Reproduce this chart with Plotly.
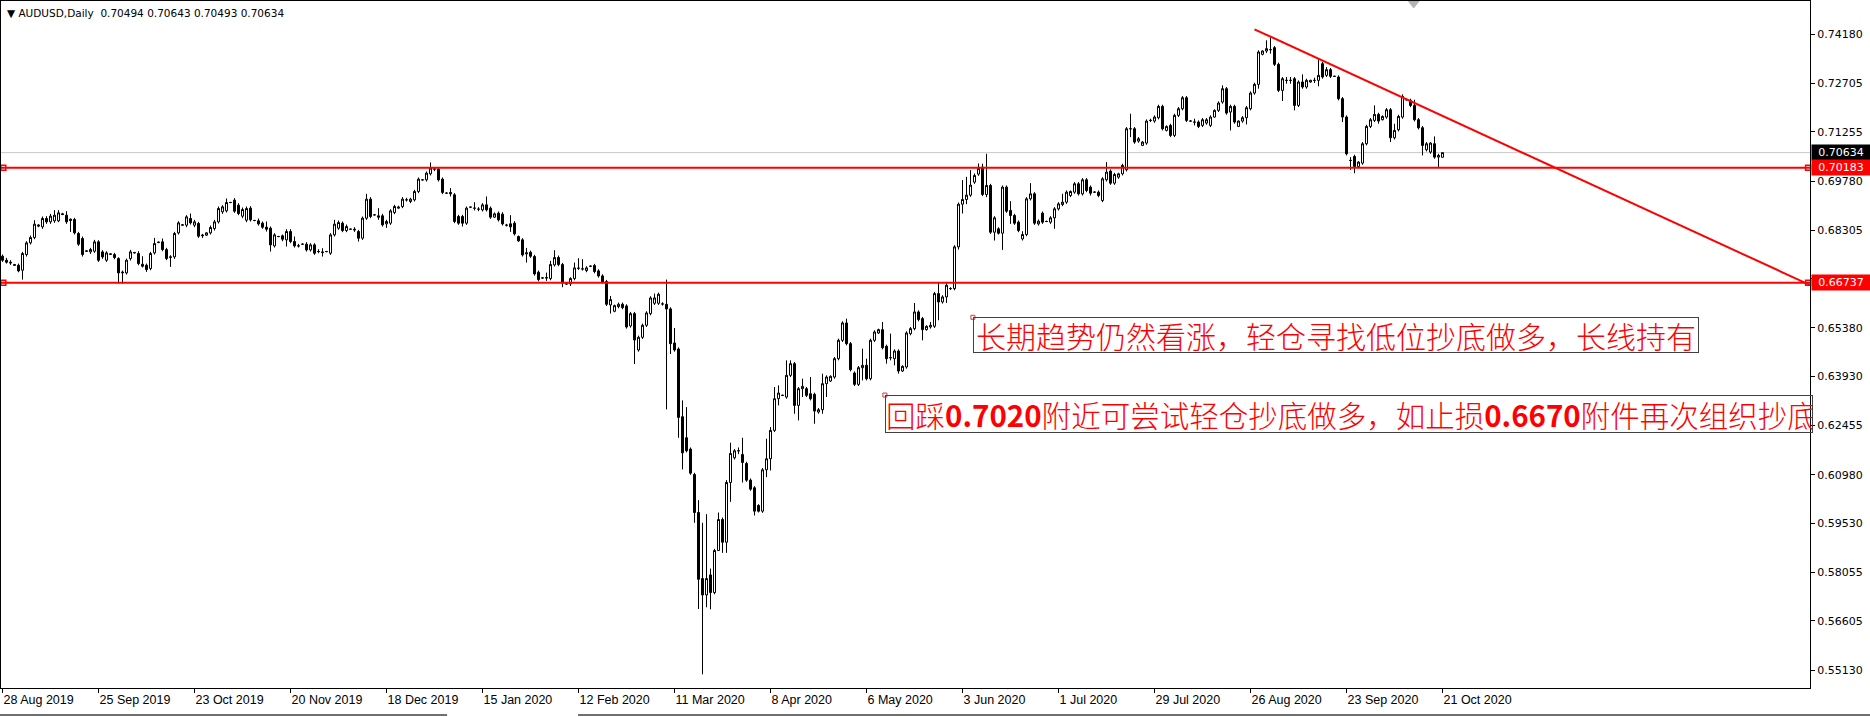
import pandas as pd
import plotly.graph_objects as go

# ---------------- data ----------------
opens = [
.6753,.6741,.6735,.6728,.6726,.6711,.6758,.6793,.6809,.6843,.6841,.6866,.6856,.6859,.6859,.6880,.6876,.6864,.6863,.6821,
.6806,.6769,.6766,.6768,.6796,.6766,.6741,.6760,.6758,.6746,.6703,.6703,.6746,.6763,.6761,.6729,.6726,.6716,.6763,.6794,
.6796,.6773,.6749,.6751,.6823,.6846,.6846,.6866,.6846,.6851,.6814,.6816,.6823,.6836,.6856,.6886,.6889,.6914,.6921,.6906,
.6873,.6861,.6897,.6860,.6859,.6852,.6840,.6837,.6784,.6812,.6814,.6802,.6827,.6797,.6784,.6789,.6789,.6772,.6787,.6767,
.6766,.6767,.6762,.6817,.6837,.6852,.6830,.6834,.6834,.6827,.6807,.6867,.6924,.6877,.6874,.6874,.6850,.6852,.6884,.6897,
.6902,.6922,.6917,.6922,.6947,.6982,.6982,.7000,.7014,.7014,.6984,.6942,.6944,.6937,.6872,.6872,.6852,.6900,.6897,.6894,
.6892,.6907,.6897,.6870,.6882,.6879,.6846,.6850,.6852,.6812,.6802,.6760,.6765,.6752,.6705,.6688,.6689,.6686,.6727,.6749,
.6728,.6670,.6670,.6686,.6717,.6715,.6710,.6723,.6725,.6709,.6694,.6677,.6607,.6588,.6602,.6609,.6604,.6544,.6581,.6472,
.6510,.6546,.6581,.6612,.6612,.6610,.6609,.6595,.6493,.6475,.6272,.6209,.6175,.6099,.5985,.5787,.5738,.5798,.5745,.5871,
.5964,.5896,.6075,.6149,.6170,.6159,.6132,.6082,.6059,.6006,.5989,.6113,.6146,.6231,.6326,.6336,.6331,.6396,.6431,.6306,
.6356,.6356,.6341,.6339,.6286,.6293,.6371,.6379,.6391,.6446,.6501,.6553,.6491,.6403,.6369,.6419,.6426,.6386,.6501,.6523,
.6533,.6483,.6449,.6446,.6469,.6409,.6421,.6521,.6536,.6586,.6566,.6533,.6541,.6543,.6641,.6616,.6631,.6656,.6656,.6781,
.6909,.6923,.6936,.6975,.6999,.7020,.6938,.6965,.6825,.6835,.6822,.6960,.6890,.6875,.6855,.6805,.6818,.6925,.6940,.6850,
.6882,.6857,.6855,.6868,.6895,.6908,.6915,.6935,.6945,.6970,.6940,.6982,.6960,.6945,.6945,.6920,.6982,.7008,.6972,.6990,
.7000,.7012,.7135,.7135,.7098,.7085,.7092,.7160,.7158,.7168,.7202,.7130,.7145,.7115,.7175,.7195,.7228,.7158,.7155,.7155,
.7145,.7152,.7145,.7170,.7190,.7215,.7255,.7185,.7202,.7142,.7158,.7168,.7195,.7242,.7268,.7358,.7368,.7372,.7378,.7328,
.7250,.7280,.7280,.7285,.7205,.7275,.7260,.7275,.7280,.7280,.7330,.7295,.7312,.7292,.7290,.7225,.7170,.7040,.7052,.7022,
.7032,.7090,.7142,.7160,.7178,.7162,.7170,.7192,.7108,.7132,.7170,.7222,.7220,.7205,.7162,.7138,.7072,.7065,.7090,.7050,
.70494]
highs = [
.6758,.6748,.6741,.6730,.6731,.6766,.6798,.6815,.6861,.6849,.6872,.6873,.6880,.6891,.6891,.6883,.6888,.6866,.6868,.6826,
.6812,.6771,.6778,.6802,.6801,.6771,.6768,.6762,.6763,.6750,.6710,.6746,.6772,.6766,.6768,.6753,.6731,.6766,.6808,.6797,
.6806,.6778,.6756,.6826,.6858,.6849,.6876,.6881,.6862,.6856,.6820,.6825,.6845,.6862,.6902,.6906,.6926,.6916,.6927,.6912,
.6899,.6902,.6903,.6862,.6866,.6857,.6857,.6842,.6822,.6814,.6818,.6834,.6834,.6812,.6790,.6791,.6795,.6792,.6792,.6774,
.6777,.6769,.6822,.6862,.6860,.6857,.6848,.6836,.6840,.6832,.6872,.6940,.6930,.6879,.6897,.6880,.6862,.6894,.6907,.6904,
.6930,.6928,.6928,.6952,.6989,.6984,.7007,.7034,.7020,.7020,.6989,.6944,.6957,.6942,.6877,.6877,.6902,.6902,.6915,.6900,
.6912,.6932,.6902,.6884,.6887,.6885,.6850,.6876,.6858,.6815,.6807,.6778,.6770,.6757,.6710,.6690,.6704,.6739,.6771,.6755,
.6733,.6672,.6690,.6734,.6747,.6744,.6723,.6725,.6730,.6714,.6699,.6682,.6634,.6608,.6614,.6614,.6609,.6586,.6586,.6515,
.6551,.6588,.6633,.6641,.6644,.6615,.6683,.6600,.6538,.6480,.6321,.6301,.6180,.6104,.6022,.5954,.5980,.5817,.5876,.5985,
.5970,.6082,.6194,.6175,.6180,.6209,.6137,.6087,.6064,.6010,.6118,.6206,.6241,.6361,.6366,.6338,.6441,.6441,.6436,.6361,
.6386,.6361,.6391,.6344,.6298,.6401,.6396,.6396,.6451,.6506,.6558,.6566,.6496,.6408,.6424,.6476,.6446,.6506,.6531,.6536,
.6556,.6488,.6521,.6474,.6474,.6426,.6528,.6541,.6613,.6591,.6571,.6546,.6556,.6646,.6676,.6636,.6676,.6660,.6786,.6914,
.6981,.6991,.7011,.7001,.7031,.7030,.7060,.6970,.6873,.6840,.6965,.6965,.6918,.6880,.6860,.6828,.6930,.6972,.6945,.6863,
.6887,.6860,.6873,.6900,.6915,.6940,.6950,.6950,.6975,.6975,.6987,.6987,.6965,.6947,.6950,.6990,.7035,.7013,.7003,.7003,
.7030,.7140,.7180,.7140,.7110,.7098,.7163,.7165,.7175,.7207,.7207,.7145,.7150,.7180,.7200,.7233,.7233,.7160,.7165,.7160,
.7167,.7167,.7175,.7193,.7217,.7265,.7260,.7207,.7207,.7160,.7173,.7203,.7247,.7273,.7370,.7370,.7400,.7408,.7383,.7333,
.7290,.7290,.7290,.7290,.7280,.7298,.7285,.7282,.7288,.7342,.7335,.7320,.7317,.7294,.7295,.7230,.7175,.7050,.7057,.7038,
.7095,.7147,.7167,.7205,.7183,.7175,.7197,.7197,.7150,.7177,.7238,.7225,.7225,.7222,.7167,.7143,.7095,.7095,.7112,.7060,
.70643]
lows = [
.6736,.6731,.6727,.6724,.6705,.6683,.6752,.6788,.6804,.6840,.6835,.6850,.6850,.6853,.6855,.6876,.6850,.6826,.6818,.6784,
.6752,.6766,.6760,.6763,.6736,.6745,.6736,.6757,.6744,.6671,.6671,.6698,.6740,.6761,.6726,.6719,.6706,.6711,.6758,.6792,
.6768,.6741,.6721,.6745,.6818,.6844,.6840,.6848,.6840,.6808,.6808,.6814,.6818,.6830,.6851,.6880,.6884,.6912,.6883,.6876,
.6867,.6855,.6857,.6858,.6845,.6835,.6827,.6767,.6779,.6810,.6798,.6782,.6792,.6779,.6779,.6787,.6767,.6767,.6757,.6762,
.6752,.6765,.6757,.6812,.6832,.6825,.6825,.6832,.6826,.6797,.6802,.6862,.6867,.6875,.6862,.6842,.6838,.6847,.6879,.6895,
.6897,.6917,.6912,.6917,.6942,.6980,.6977,.6995,.7008,.6977,.6939,.6940,.6932,.6852,.6847,.6842,.6847,.6898,.6890,.6888,
.6887,.6887,.6865,.6868,.6857,.6845,.6842,.6826,.6815,.6796,.6752,.6734,.6748,.6695,.6678,.6686,.6679,.6681,.6722,.6723,
.6660,.6668,.6664,.6681,.6712,.6710,.6705,.6721,.6702,.6689,.6671,.6604,.6581,.6585,.6597,.6594,.6536,.6539,.6430,.6467,
.6505,.6541,.6576,.6607,.6607,.6605,.6294,.6460,.6467,.6209,.6114,.6165,.6098,.5954,.5696,.5500,.5701,.5695,.5740,.5870,
.5864,.5864,.6017,.6144,.6160,.6075,.6077,.6050,.5976,.5985,.5984,.6091,.6111,.6226,.6306,.6334,.6326,.6391,.6281,.6261,
.6331,.6331,.6321,.6251,.6281,.6281,.6331,.6376,.6386,.6441,.6496,.6486,.6408,.6364,.6364,.6381,.6381,.6381,.6496,.6520,
.6474,.6431,.6441,.6426,.6401,.6406,.6416,.6516,.6531,.6558,.6501,.6530,.6536,.6538,.6561,.6611,.6613,.6652,.6651,.6773,
.6881,.6909,.6931,.6970,.6994,.6933,.6930,.6820,.6800,.6818,.6772,.6883,.6850,.6847,.6825,.6800,.6813,.6920,.6847,.6845,
.6850,.6855,.6850,.6835,.6890,.6903,.6910,.6930,.6940,.6935,.6935,.6945,.6935,.6943,.6930,.6915,.6977,.6967,.6967,.6985,
.6995,.7007,.7110,.7090,.7093,.7083,.7087,.7155,.7153,.7163,.7130,.7127,.7110,.7110,.7170,.7190,.7155,.7156,.7145,.7137,
.7140,.7147,.7140,.7168,.7185,.7210,.7177,.7130,.7150,.7140,.7153,.7148,.7190,.7237,.7255,.7355,.7362,.7360,.7323,.7245,
.7218,.7270,.7270,.7190,.7200,.7255,.7255,.7273,.7272,.7262,.7285,.7290,.7287,.7290,.7220,.7155,.7055,.7012,.7002,.7020,
.7027,.7085,.7137,.7155,.7150,.7160,.7165,.7095,.7103,.7127,.7165,.7220,.7200,.7157,.7133,.7055,.7067,.7060,.7045,.7020,
.70493]
closes = [
.6741,.6735,.6733,.6726,.6709,.6761,.6793,.6809,.6849,.6846,.6866,.6856,.6873,.6876,.6883,.6878,.6856,.6860,.6823,.6789,
.6758,.6768,.6773,.6796,.6741,.6751,.6763,.6759,.6749,.6703,.6705,.6741,.6766,.6764,.6731,.6723,.6713,.6761,.6791,.6795,
.6773,.6746,.6751,.6821,.6853,.6847,.6871,.6853,.6856,.6813,.6816,.6823,.6839,.6856,.6896,.6901,.6914,.6914,.6888,.6881,
.6893,.6896,.6862,.6860,.6850,.6840,.6834,.6787,.6817,.6812,.6804,.6827,.6797,.6784,.6784,.6789,.6772,.6787,.6762,.6767,
.6764,.6767,.6817,.6849,.6854,.6830,.6842,.6834,.6832,.6807,.6867,.6924,.6872,.6877,.6870,.6847,.6857,.6889,.6902,.6900,
.6924,.6922,.6924,.6947,.6984,.6982,.7002,.7017,.7014,.6982,.6944,.6942,.6940,.6857,.6852,.6852,.6897,.6900,.6897,.6894,
.6907,.6892,.6870,.6880,.6862,.6850,.6846,.6841,.6820,.6799,.6757,.6763,.6753,.6700,.6683,.6688,.6688,.6728,.6749,.6728,
.6673,.6670,.6686,.6718,.6717,.6715,.6718,.6723,.6707,.6694,.6676,.6609,.6623,.6605,.6609,.6599,.6541,.6581,.6502,.6510,
.6546,.6583,.6628,.6628,.6639,.6610,.6595,.6491,.6472,.6270,.6164,.6170,.6103,.5985,.5785,.5738,.5787,.5745,.5871,.5964,
.5896,.6075,.6162,.6170,.6170,.6135,.6082,.6055,.5989,.5989,.6113,.6146,.6231,.6326,.6343,.6336,.6396,.6431,.6306,.6356,
.6363,.6336,.6326,.6289,.6293,.6371,.6391,.6393,.6446,.6501,.6553,.6491,.6413,.6369,.6419,.6426,.6386,.6501,.6526,.6533,
.6479,.6446,.6449,.6469,.6409,.6423,.6523,.6536,.6586,.6563,.6533,.6543,.6546,.6641,.6616,.6631,.6666,.6656,.6781,.6909,
.6923,.6936,.6966,.6995,.7016,.6938,.6965,.6825,.6868,.6822,.6960,.6888,.6875,.6852,.6830,.6818,.6925,.6940,.6852,.6858,
.6855,.6857,.6868,.6895,.6910,.6915,.6945,.6947,.6970,.6940,.6982,.6950,.6942,.6945,.6935,.6985,.7005,.6972,.6998,.7000,
.7025,.7135,.7135,.7095,.7105,.7095,.7158,.7160,.7170,.7202,.7135,.7142,.7115,.7175,.7195,.7228,.7160,.7158,.7155,.7142,
.7162,.7162,.7170,.7190,.7212,.7255,.7182,.7202,.7155,.7158,.7168,.7198,.7242,.7268,.7365,.7368,.7375,.7372,.7328,.7250,
.7285,.7280,.7280,.7205,.7275,.7260,.7280,.7280,.7280,.7295,.7290,.7312,.7292,.7292,.7225,.7170,.7060,.7040,.7022,.7035,
.7090,.7142,.7162,.7178,.7158,.7172,.7192,.7108,.7130,.7172,.7232,.7222,.7205,.7162,.7138,.7085,.7090,.7092,.7050,.7055,
.70634]

# dates: daily bars (Sun-Fri, the broker has no Saturday bar)
all_days = pd.date_range("2019-08-28", "2020-10-21", freq="D")
bar_dates = [d for d in all_days if d.weekday() != 5]
bar_index = list(range(len(bar_dates)))

tick_idx = list(range(0, len(bar_dates), 24))
tick_txt = [f"{bar_dates[i].day} {bar_dates[i].strftime('%b %Y')}" for i in tick_idx]

price_ticks = [0.74180, 0.72705, 0.71255, 0.69780, 0.68305, 0.66855, 0.65380,
               0.63930, 0.62455, 0.60980, 0.59530, 0.58055, 0.56605, 0.55130]

support_hi = 0.70183
support_lo = 0.66737
last_price = closes[-1]
trend_x = [313, 452]
trend_y = [0.7433, 0.6666]

note1 = "长期趋势仍然看涨，轻仓寻找低位抄底做多，长线持有"
note2 = "回踩<b>0.7020</b>附近可尝试轻仓抄底做多，如止损<b>0.6670</b>附件再次组织抄底"

# ---------------- figure ----------------
RED = "#ff0000"
X0, X1 = -0.375, 451.875   # 4 px per bar, candle centres on half pixels

fig = go.Figure()
fig.add_trace(go.Candlestick(
    x=bar_index, open=opens, high=highs, low=lows, close=closes,
    increasing=dict(line=dict(color="black", width=1), fillcolor="white"),
    decreasing=dict(line=dict(color="black", width=1), fillcolor="black"),
    whiskerwidth=0, showlegend=False, hoverinfo="skip"))

shapes = []
shapes.append(dict(type="line", xref="paper", x0=0, x1=1, yref="y", y0=last_price, y1=last_price,
                   line=dict(color="#c8c8c8", width=1), layer="below"))
for lvl in (support_hi, support_lo):
    shapes.append(dict(type="line", xref="paper", x0=0, x1=1, yref="y", y0=lvl, y1=lvl,
                       line=dict(color=RED, width=2), layer="above"))
shapes.append(dict(type="line", xref="x", yref="y", x0=trend_x[0], y0=trend_y[0], x1=trend_x[1], y1=trend_y[1],
                   line=dict(color=RED, width=2), layer="above"))
# MT4 window bottom line with tab gap
shapes.append(dict(type="line", xref="paper", yref="paper", x0=-0.001, x1=0.2466, y0=-0.0393, y1=-0.0393,
                   line=dict(color="#404040", width=1.5)))
shapes.append(dict(type="line", xref="paper", yref="paper", x0=0.319, x1=1.04, y0=-0.0393, y1=-0.0393,
                   line=dict(color="#404040", width=1.5)))
# chart-shift marker at top
shapes.append(dict(type="path", xref="x", yref="paper",
                   path="M 351.3 1 L 354.3 1 L 352.8 0.989 Z",
                   fillcolor="#b4b4b4", line=dict(color="#b4b4b4", width=0)))

fig.add_trace(go.Scatter(x=[0.2, 0.2, 451.4, 451.4], y=[support_hi, support_lo, support_hi, support_lo],
                         mode="markers", marker=dict(symbol="square-open", size=5, color=RED, line=dict(width=1.5, color=RED)),
                         cliponaxis=False, showlegend=False, hoverinfo="skip"))
fig.add_trace(go.Scatter(x=[242.6, 220.6], y=[0.6570, 0.6337],
                         mode="markers", marker=dict(symbol="square-open", size=4, color="#c04040", line=dict(width=1, color="#c04040")),
                         cliponaxis=False, showlegend=False, hoverinfo="skip"))

annotations = []
annotations.append(dict(xref="x", yref="y", x=242.5, y=0.65708, xanchor="left", yanchor="top",
                        text=note1, showarrow=False, width=724, height=34, align="center",
                        font=dict(family="Noto Sans CJK SC", size=30, color=RED, weight=300),
                        bordercolor="#404040", borderwidth=1, borderpad=0))
annotations.append(dict(xref="x", yref="y", x=220.5, y=0.63381, xanchor="left", yanchor="top",
                        text=note2, showarrow=False, width=926, height=36, align="left",
                        font=dict(family="Noto Sans CJK SC", size=29.5, color=RED, weight=300),
                        bordercolor="#404040", borderwidth=1, borderpad=0))
annotations.append(dict(xref="paper", yref="paper", x=0, y=1, xanchor="left", yanchor="top", xshift=4, yshift=-4,
                        text="▼ AUDUSD,Daily\u00a0\u00a0" + " ".join(f"{v:.5f}" for v in (opens[-1], highs[-1], lows[-1], closes[-1])),
                        showarrow=False, font=dict(family="DejaVu Sans", size=10.5, color="black")))
for val, bg in ((last_price, "black"), (support_hi, RED), (support_lo, RED)):
    annotations.append(dict(xref="paper", yref="y", x=1, y=val, xanchor="left", yanchor="middle", xshift=1,
                            text=f"{val:.5f}", showarrow=False, bgcolor=bg, borderpad=1, width=56,
                            font=dict(family="DejaVu Sans", size=11, color="white")))

fig.update_layout(
    width=1870, height=717,
    margin=dict(l=1, r=60, t=1, b=29),
    paper_bgcolor="white", plot_bgcolor="white",
    boxgap=0.5, boxgroupgap=0,
    shapes=shapes, annotations=annotations,
    showlegend=False,
    xaxis=dict(range=[X0, X1], rangeslider=dict(visible=False), showgrid=False, zeroline=False,
               tickvals=tick_idx, ticktext=tick_txt, ticks="outside", ticklen=4, tickcolor="black",
               ticklabelposition="outside right",
               tickfont=dict(family="Liberation Sans", size=12.5, color="black"),
               showline=True, linecolor="black", linewidth=1, mirror=True),
    yaxis=dict(range=[0.54591, 0.75178], side="right", showgrid=False, zeroline=False,
               tickvals=price_ticks, ticktext=[f"{v:.5f}" for v in price_ticks],
               ticks="outside", ticklen=4, tickcolor="black",
               tickfont=dict(family="DejaVu Sans", size=11, color="black"),
               showline=True, linecolor="black", linewidth=1, mirror=True),
)

fig.write_html("out.html", config={"displayModeBar": False},
               post_script="document.body.style.margin='0';document.body.style.overflow='hidden';")
